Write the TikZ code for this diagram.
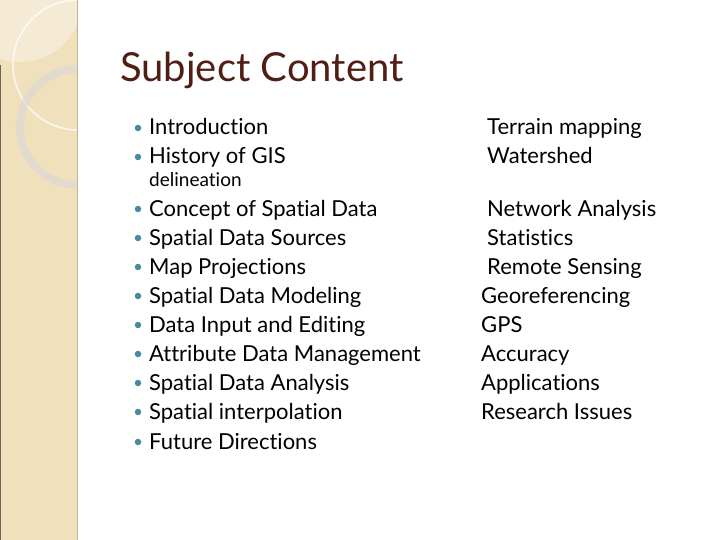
\documentclass[tikz,border=0pt]{standalone}
\usepackage{fontspec}
\setmainfont{Lato}[Ligatures=NoCommon]
\begin{document}
\begin{tikzpicture}[x=1pt,y=-1pt,
 tx/.style={anchor=base west,inner sep=0pt,font=\fontsize{22}{22}\selectfont},
 bul/.style={circle,fill=bulc,inner sep=0pt,minimum size=6.5pt}]
\definecolor{bulc}{RGB}{70,140,160}
\definecolor{bar}{RGB}{240,224,188}
\definecolor{ttl}{RGB}{80,30,20}
\fill[white] (0,0) rectangle (720,540);
\useasboundingbox (0,0) rectangle (720,540);
\begin{scope}
\clip (0,0) rectangle (78,540);
\fill[bar] (0,0) rectangle (78,540);
\fill[white,opacity=0.35] (20,0) circle (62);
\draw[white,opacity=0.8,line width=1.5pt] (78,65) circle (65);
\draw[black!15,opacity=0.6,line width=8pt] (78,127) circle (58);
\end{scope}
\draw[black!55!bar,line width=1pt] (0.5,65) -- (0.5,540);
\draw[black!20!bar,line width=1pt] (77.5,0) -- (77.5,540);
\node[anchor=base west,inner sep=0pt,text=ttl,font=\fontsize{40}{40}\selectfont] (title) at (120,82) {Subject Content};
\foreach \y/\t [count=\i] in {128/Introduction,157/History of GIS,209/Concept of Spatial Data,238/Spatial Data Sources,267/Map Projections,296/Spatial Data Modeling,325/Data Input and Editing,354/Attribute Data Management,383/Spatial Data Analysis,412/Spatial interpolation,442/Future Directions}{
 \node[bul] (b\i) at (138,\y) {};
 \node[tx] (l\i) at (149,\y+7) {\t};
}
\node[tx,font=\fontsize{19}{19}\selectfont] (del) at (149,186.5) {delineation};
\foreach \x/\y/\t [count=\i] in {487/128/Terrain mapping,487/157/Watershed,487/209/Network Analysis,487/238/Statistics,487/267/Remote Sensing,481/296/Georeferencing,481/325/GPS,481/354/Accuracy,481/383/Applications,481/412/Research Issues}{
 \node[tx] (r\i) at (\x,\y+7) {\t};
}
\end{tikzpicture}
\end{document}
